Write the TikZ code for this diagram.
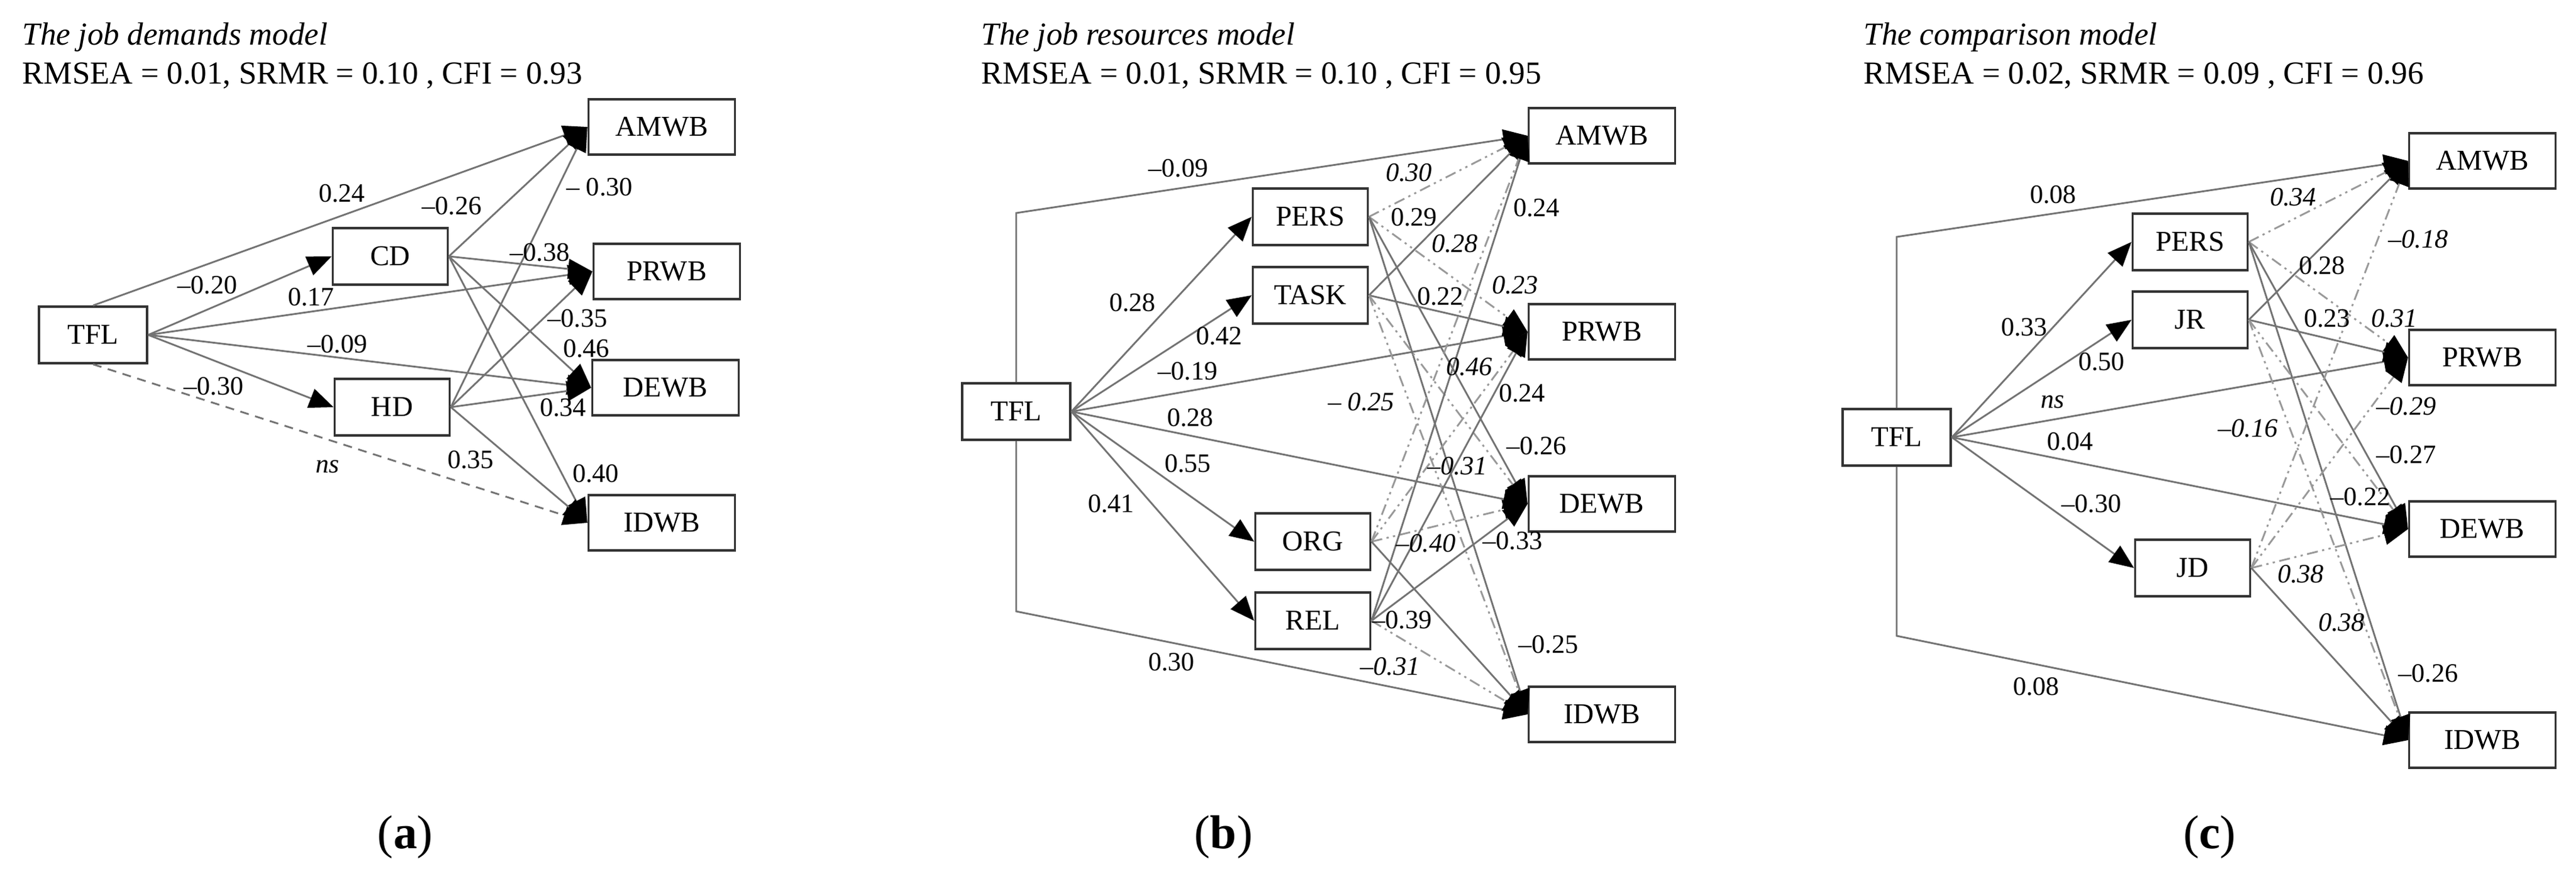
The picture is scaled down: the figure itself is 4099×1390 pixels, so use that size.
\documentclass[tikz,border=0pt]{standalone}
\usepackage{fontspec}
\setmainfont{Liberation Serif}
\usetikzlibrary{arrows.meta}
\begin{document}
\begin{tikzpicture}[x=0.01cm,y=-0.01cm,
  box/.style={draw=black!80, line width=1pt, minimum width=2.33cm, minimum height=0.88cm, inner sep=0pt, font=\fontsize{13}{15}\selectfont},
  mid/.style={box, minimum width=1.83cm, minimum height=0.9cm},
  tfl/.style={box, minimum width=1.72cm, minimum height=0.9cm},
  e/.style={draw=black!55, line width=0.8pt, -{Triangle[length=11pt,width=9pt,color=black]}},
  dd/.style={e, draw=black!40, dash pattern=on 5pt off 2pt on 1pt off 2pt on 1pt off 2pt},
  nsl/.style={e, dash pattern=on 4pt off 3pt},
  lab/.style={font=\fontsize{12}{14}\selectfont, inner sep=1pt},
  ilab/.style={font=\fontsize{12}{14}\selectfont\itshape, inner sep=1pt},
  ttl/.style={anchor=base west, inner sep=0pt, font=\fontsize{14.5}{17}\selectfont},
  pl/.style={anchor=base, inner sep=0pt, font=\fontsize{21.5}{24}\selectfont}]
\path[use as bounding box] (0,0) rectangle (4099,1390);

% ---------- titles ----------
\node[ttl,font=\fontsize{14.5}{17}\selectfont\itshape] (ta1) at (35,71) {The job demands model};
\node[ttl] (ta2) at (35,133) {RMSEA = 0.01, SRMR = 0.10 , CFI = 0.93};
\node[ttl,font=\fontsize{14.5}{17}\selectfont\itshape] (tb1) at (1561,71) {The job resources model};
\node[ttl] (tb2) at (1561,133) {RMSEA = 0.01, SRMR = 0.10 , CFI = 0.95};
\node[ttl,font=\fontsize{14.5}{17}\selectfont\itshape] (tc1) at (2965,71) {The comparison model};
\node[ttl] (tc2) at (2965,133) {RMSEA = 0.02, SRMR = 0.09 , CFI = 0.96};
\node[pl] (pa) at (645,1350) {(\textbf{a})};
\node[pl] (pb) at (1947,1350) {(\textbf{b})};
\node[pl] (pc) at (3516,1350) {(\textbf{c})};

% ---------- panel a ----------
\node[tfl] (TFLa) at (148,533) {TFL};
\node[mid] (CD) at (621,408) {CD};
\node[mid] (HD) at (624,648) {HD};
\node[box] (AMWBa) at (1053,202) {AMWB};
\node[box] (PRWBa) at (1061,432) {PRWB};
\node[box] (DEWBa) at (1059,617) {DEWB};
\node[box] (IDWBa) at (1053,832) {IDWB};
\draw[e] (TFLa.north) -- (AMWBa.west);
\draw[e] (TFLa.east) -- (CD.west);
\draw[e] (TFLa.east) -- (PRWBa.west);
\draw[e] (TFLa.east) -- (DEWBa.west);
\draw[e] (TFLa.east) -- (HD.west);
\draw[nsl] (TFLa.south) -- (IDWBa.west);
\foreach \t in {AMWBa,PRWBa,DEWBa,IDWBa}{
  \draw[e] (CD.east) -- (\t.west);
  \draw[e] (HD.east) -- (\t.west);
}
\node[lab] at (544,308) {0.24};
\node[lab] at (330,454) {–0.20};
\node[lab] at (495,473) {0.17};
\node[lab] at (537,548) {–0.09};
\node[lab] at (340,615) {–0.30};
\node[ilab] at (521,743) {ns};
\node[lab] at (719,328) {–0.26};
\node[lab] at (954,298) {– 0.30};
\node[lab] at (859,402) {–0.38};
\node[lab] at (919,507) {–0.35};
\node[lab] at (933,555) {0.46};
\node[lab] at (896,649) {0.34};
\node[lab] at (749,732) {0.35};
\node[lab] at (948,754) {0.40};

% ---------- panel b ----------
\node[tfl] (TFLb) at (1617,655) {TFL};
\node[mid] (PERSb) at (2085,345) {PERS};
\node[mid] (TASK) at (2085,470) {TASK};
\node[mid] (ORG) at (2089,862) {ORG};
\node[mid] (REL) at (2089,988) {REL};
\node[box] (AMWBb) at (2549,216) {AMWB};
\node[box] (PRWBb) at (2549,528) {PRWB};
\node[box] (DEWBb) at (2549,802) {DEWB};
\node[box] (IDWBb) at (2549,1137) {IDWB};
\coordinate (btop) at (1617,339);
\coordinate (bbot) at (1617,973);
\draw[e] (TFLb.north) -- (btop) -- (AMWBb.west);
\draw[e] (TFLb.south) -- (bbot) -- (IDWBb.west);
\foreach \t in {PERSb,TASK,PRWBb,DEWBb,ORG,REL}{\draw[e] (TFLb.east) -- (\t.west);}
\draw[dd] (PERSb.east) -- (AMWBb.west);
\draw[dd] (PERSb.east) -- (PRWBb.west);
\draw[e]  (PERSb.east) -- (DEWBb.west);
\draw[e]  (PERSb.east) -- (IDWBb.west);
\draw[e]  (TASK.east) -- (AMWBb.west);
\draw[e]  (TASK.east) -- (PRWBb.west);
\draw[dd] (TASK.east) -- (DEWBb.west);
\draw[dd] (TASK.east) -- (IDWBb.west);
\draw[dd] (ORG.east) -- (AMWBb.west);
\draw[dd] (ORG.east) -- (PRWBb.west);
\draw[dd] (ORG.east) -- (DEWBb.west);
\draw[e]  (ORG.east) -- (IDWBb.west);
\draw[e]  (REL.east) -- (AMWBb.west);
\draw[e]  (REL.east) -- (PRWBb.west);
\draw[e]  (REL.east) -- (DEWBb.west);
\draw[dd] (REL.east) -- (IDWBb.west);
\node[lab] at (1875,268) {–0.09};
\node[ilab] at (2242,275) {0.30};
\node[lab] at (2250,346) {0.29};
\node[lab] at (2445,331) {0.24};
\node[ilab] at (2315,388) {0.28};
\node[ilab] at (2411,454) {0.23};
\node[lab] at (2292,472) {0.22};
\node[lab] at (1802,482) {0.28};
\node[lab] at (1940,535) {0.42};
\node[lab] at (1890,591) {–0.19};
\node[ilab] at (2338,584) {0.46};
\node[lab] at (2422,626) {0.24};
\node[ilab] at (2166,640) {– 0.25};
\node[lab] at (1894,665) {0.28};
\node[lab] at (2445,710) {–0.26};
\node[ilab] at (2319,742) {–0.31};
\node[lab] at (1890,738) {0.55};
\node[lab] at (1768,802) {0.41};
\node[ilab] at (2269,865) {–0.40};
\node[lab] at (2407,861) {–0.33};
\node[lab] at (2231,987) {–0.39};
\node[lab] at (2464,1026) {–0.25};
\node[lab] at (1864,1054) {0.30};
\node[ilab] at (2212,1061) {–0.31};

% ---------- panel c ----------
\node[tfl] (TFLc) at (3018,696) {TFL};
\node[mid] (PERSc) at (3485,385) {PERS};
\node[mid] (JR) at (3485,509) {JR};
\node[mid] (JD) at (3489,904) {JD};
\node[box] (AMWBc) at (3950,256) {AMWB};
\node[box] (PRWBc) at (3950,569) {PRWB};
\node[box] (DEWBc) at (3950,842) {DEWB};
\node[box] (IDWBc) at (3950,1178) {IDWB};
\coordinate (ctop) at (3018,377);
\coordinate (cbot) at (3018,1012);
\draw[e] (TFLc.north) -- (ctop) -- (AMWBc.west);
\draw[e] (TFLc.south) -- (cbot) -- (IDWBc.west);
\foreach \t in {PERSc,JR,PRWBc,DEWBc,JD}{\draw[e] (TFLc.east) -- (\t.west);}
\draw[dd] (PERSc.east) -- (AMWBc.west);
\draw[dd] (PERSc.east) -- (PRWBc.west);
\draw[e]  (PERSc.east) -- (DEWBc.west);
\draw[e]  (PERSc.east) -- (IDWBc.west);
\draw[e]  (JR.east) -- (AMWBc.west);
\draw[e]  (JR.east) -- (PRWBc.west);
\draw[dd] (JR.east) -- (DEWBc.west);
\draw[dd] (JR.east) -- (IDWBc.west);
\draw[dd] (JD.east) -- (AMWBc.west);
\draw[dd] (JD.east) -- (PRWBc.west);
\draw[dd] (JD.east) -- (DEWBc.west);
\draw[e]  (JD.east) -- (IDWBc.west);
\node[lab] at (3267,310) {0.08};
\node[ilab] at (3649,314) {0.34};
\node[ilab] at (3848,381) {–0.18};
\node[lab] at (3695,423) {0.28};
\node[lab] at (3221,521) {0.33};
\node[lab] at (3703,507) {0.23};
\node[ilab] at (3810,507) {0.31};
\node[lab] at (3344,576) {0.50};
\node[ilab] at (3266,640) {ns};
\node[ilab] at (3829,647) {–0.29};
\node[ilab] at (3577,682) {–0.16};
\node[lab] at (3294,703) {0.04};
\node[lab] at (3829,724) {–0.27};
\node[lab] at (3328,802) {–0.30};
\node[lab] at (3756,791) {–0.22};
\node[ilab] at (3661,914) {0.38};
\node[ilab] at (3726,991) {0.38};
\node[lab] at (3864,1072) {–0.26};
\node[lab] at (3240,1093) {0.08};
\end{tikzpicture}
\end{document}
